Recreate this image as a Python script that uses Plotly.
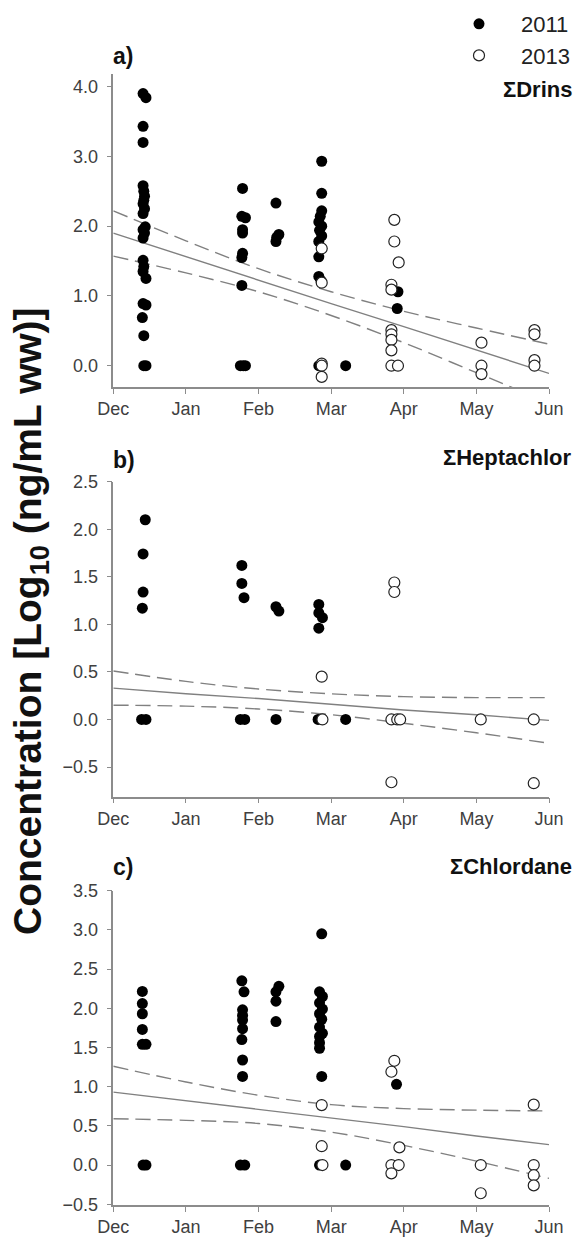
import plotly.graph_objects as go

# ---- x positions are in months after 1 Dec (Dec=0 ... Jun=6) ----
month_ticks = [0, 1, 2, 3, 4, 5, 6]
month_labels = ["Dec", "Jan", "Feb", "Mar", "Apr", "May", "Jun"]

# ---- a) sum of drins ----
drins_2011_x = [0.41, 0.45, 0.41, 0.41, 0.41, 0.42, 0.43, 0.42, 0.41, 0.43, 0.41, 0.44, 0.41,
                0.43, 0.41, 0.41, 0.42, 0.41, 0.45, 0.41, 0.45, 0.40, 0.42, 0.42, 0.45,
                1.78, 1.77, 1.82, 1.78, 1.78, 1.78, 1.77, 1.77, 1.75, 1.79, 1.82,
                2.24, 2.28, 2.25, 2.24,
                2.87, 2.87, 2.87, 2.85, 2.83, 2.87, 2.84, 2.87, 2.83, 2.87, 2.83, 2.83, 2.86, 2.83,
                3.20,
                3.92, 3.91]
drins_2011_y = [3.90, 3.84, 3.43, 3.20, 2.58, 2.50, 2.43, 2.37, 2.32, 2.25, 2.18, 1.99, 1.95,
                1.90, 1.83, 1.51, 1.42, 1.35, 1.25, 0.89, 0.87, 0.69, 0.43, 0.00, 0.00,
                2.54, 2.14, 2.12, 1.95, 1.90, 1.61, 1.55, 1.15, 0.00, 0.00, 0.00,
                2.33, 1.88, 1.84, 1.78,
                2.93, 2.47, 2.22, 2.14, 2.06, 2.00, 1.94, 1.86, 1.78, 1.68, 1.56, 1.28, 1.22, 0.00,
                0.00,
                1.06, 0.82]
drins_2013_x = [2.87, 2.87, 2.87, 2.87, 2.87,
                3.87, 3.87, 3.93, 3.83, 3.83, 3.83, 3.83, 3.83, 3.83, 3.83, 3.92,
                5.07, 5.07, 5.07,
                5.80, 5.80, 5.80, 5.80]
drins_2013_y = [1.68, 1.19, 0.03, 0.00, -0.16,
                2.09, 1.78, 1.48, 1.16, 1.09, 0.51, 0.45, 0.37, 0.22, 0.00, 0.00,
                0.33, 0.00, -0.12,
                0.51, 0.45, 0.08, 0.00]

# ---- b) sum of heptachlor ----
hepta_2011_x = [0.44, 0.41, 0.41, 0.40, 0.39, 0.45,
                1.77, 1.77, 1.80, 1.75, 1.81,
                2.24, 2.28, 2.24,
                2.83, 2.83, 2.88, 2.83, 2.82,
                3.20]
hepta_2011_y = [2.10, 1.74, 1.34, 1.17, 0.00, 0.00,
                1.62, 1.43, 1.28, 0.00, 0.00,
                1.185, 1.14, 0.00,
                1.21, 1.12, 1.07, 0.96, 0.00,
                0.00]
hepta_2013_x = [2.87, 2.88,
                3.87, 3.87, 3.83, 3.91, 3.95, 3.83,
                5.06,
                5.79, 5.79]
hepta_2013_y = [0.45, 0.00,
                1.44, 1.34, 0.00, 0.00, 0.00, -0.66,
                0.00,
                0.00, -0.67]

# ---- c) sum of chlordane ----
chlor_2011_x = [0.40, 0.40, 0.40, 0.40, 0.40, 0.45, 0.41, 0.45,
                1.77, 1.80, 1.78, 1.78, 1.78, 1.78, 1.77, 1.78, 1.78, 1.75, 1.81,
                2.28, 2.24, 2.24, 2.24,
                2.87, 2.84, 2.88, 2.84, 2.88, 2.84, 2.87, 2.84, 2.88, 2.84, 2.84, 2.84, 2.87, 2.84,
                3.20,
                3.90]
chlor_2011_y = [2.215, 2.06, 1.93, 1.73, 1.54, 1.54, 0.00, 0.00,
                2.35, 2.21, 1.98, 1.91, 1.85, 1.74, 1.60, 1.34, 1.13, 0.00, 0.00,
                2.28, 2.21, 2.09, 1.83,
                2.95, 2.21, 2.15, 2.07, 1.99, 1.93, 1.86, 1.76, 1.68, 1.64, 1.56, 1.49, 1.13, 0.00,
                0.00,
                1.03]
chlor_2013_x = [2.87, 2.87, 2.88,
                3.87, 3.83, 3.94, 3.83, 3.93, 3.83,
                5.06, 5.06,
                5.79, 5.79, 5.79, 5.79]
chlor_2013_y = [0.765, 0.24, 0.00,
                1.33, 1.19, 0.225, 0.00, 0.00, -0.106,
                0.00, -0.36,
                0.77, 0.00, -0.13, -0.26]

# ---- regression lines with 95% confidence bands ----
fit_x = [0, 1, 2, 3, 4, 5, 6]
drins_fit = [1.90, 1.56, 1.23, 0.89, 0.56, 0.22, -0.11]
drins_upper = [2.22, 1.79, 1.39, 1.06, 0.78, 0.54, 0.31]
drins_lower = [1.57, 1.33, 1.06, 0.72, 0.33, -0.10, -0.53]
hepta_fit = [0.33, 0.27, 0.22, 0.16, 0.10, 0.05, -0.01]
hepta_upper = [0.51, 0.40, 0.32, 0.27, 0.24, 0.23, 0.23]
hepta_lower = [0.15, 0.14, 0.11, 0.05, -0.04, -0.14, -0.25]
chlor_fit = [0.93, 0.82, 0.71, 0.60, 0.49, 0.37, 0.26]
chlor_upper = [1.26, 1.06, 0.89, 0.77, 0.72, 0.70, 0.69]
chlor_lower = [0.59, 0.57, 0.53, 0.42, 0.25, 0.05, -0.17]

panel_letters = ["a)", "b)", "c)"]
panel_names = ["ΣDrins", "ΣHeptachlor", "ΣChlordane"]
y_ranges = [[-0.305, 4.18], [-0.81, 2.5], [-0.51, 3.5]]
y_ticks = [[0.0, 1.0, 2.0, 3.0, 4.0],
           [-0.5, 0.0, 0.5, 1.0, 1.5, 2.0, 2.5],
           [-0.5, 0.0, 0.5, 1.0, 1.5, 2.0, 2.5, 3.0, 3.5]]

# ---- page geometry (pixels) ----
W, H = 579, 1237
FONT = "Liberation Sans, Arial, sans-serif"
AXIS_GREY = "#8c8c8c"
LINE_GREY = "#808080"
plot_left, plot_right = 113.3, 549.0
panel_px = [(74.0, 387.0), (481.7, 796.5), (890.7, 1205.0)]   # (top, bottom)
letter_px = [56, 460, 867]
name_px = [89, 458, 866]


def py(px):
    return 1 - px / H


def px_x(px):
    return px / W


panels = [
    (drins_2011_x, drins_2011_y, drins_2013_x, drins_2013_y, drins_fit, drins_upper, drins_lower),
    (hepta_2011_x, hepta_2011_y, hepta_2013_x, hepta_2013_y, hepta_fit, hepta_upper, hepta_lower),
    (chlor_2011_x, chlor_2011_y, chlor_2013_x, chlor_2013_y, chlor_fit, chlor_upper, chlor_lower),
]

# en-spaces widen the gap between legend symbol and label
GAP = "\u2002\u2002"

fig = go.Figure()
for i, (x11, y11, x13, y13, fit, up, lo) in enumerate(panels):
    xa = "x" if i == 0 else f"x{i + 1}"
    ya = "y" if i == 0 else f"y{i + 1}"
    for band in (up, lo):
        fig.add_trace(go.Scatter(x=fit_x, y=band, mode="lines", xaxis=xa, yaxis=ya,
                                 line=dict(color=LINE_GREY, width=1.4, dash="15px,7px", shape="spline"),
                                 showlegend=False, hoverinfo="skip"))
    fig.add_trace(go.Scatter(x=fit_x, y=fit, mode="lines", xaxis=xa, yaxis=ya,
                             line=dict(color=LINE_GREY, width=1.4),
                             showlegend=False, hoverinfo="skip"))
    fig.add_trace(go.Scatter(x=x11, y=y11, mode="markers", xaxis=xa, yaxis=ya, name=GAP + "2011",
                             marker=dict(symbol="circle", size=11, color="#000000",
                                         line=dict(color="#000000", width=0)),
                             showlegend=(i == 0), cliponaxis=False))
    fig.add_trace(go.Scatter(x=x13, y=y13, mode="markers", xaxis=xa, yaxis=ya, name=GAP + "2013",
                             marker=dict(symbol="circle", size=11, color="#ffffff",
                                         line=dict(color="#222222", width=1.2)),
                             showlegend=(i == 0), cliponaxis=False))

layout = dict(
    width=W, height=H,
    margin=dict(l=0, r=0, t=0, b=0),
    paper_bgcolor="white", plot_bgcolor="white",
    font=dict(family=FONT, color="#404040", size=18),
    legend=dict(x=px_x(575), xanchor="right", y=py(3), yanchor="top",
                font=dict(family=FONT, size=22, color="#222222"),
                bgcolor="rgba(0,0,0,0)", tracegroupgap=0),
    annotations=[],
)
for i in range(3):
    sfx = "" if i == 0 else str(i + 1)
    top, bot = panel_px[i]
    layout["xaxis" + sfx] = dict(
        domain=[px_x(plot_left), px_x(plot_right)], anchor="y" + sfx,
        range=[0, 6], tickvals=month_ticks, ticktext=month_labels,
        showline=True, linecolor=AXIS_GREY, linewidth=1.5,
        ticks="outside", ticklen=5, tickwidth=1.2, tickcolor=AXIS_GREY,
        showgrid=False, zeroline=False, automargin=False,
        tickfont=dict(size=18, color="#404040"), ticklabelstandoff=0,
    )
    layout["yaxis" + sfx] = dict(
        domain=[py(bot), py(top)], anchor="x" + sfx,
        range=y_ranges[i], tickvals=y_ticks[i], tickformat=".1f",
        showline=True, linecolor=AXIS_GREY, linewidth=1.5,
        ticks="outside", ticklen=5, tickwidth=1.2, tickcolor=AXIS_GREY,
        showgrid=False, zeroline=False, automargin=False,
        tickfont=dict(size=18, color="#404040"), ticklabelstandoff=5,
    )
    layout["annotations"].append(dict(
        text=f"<b>{panel_letters[i]}</b>", xref="paper", yref="paper",
        x=px_x(plot_left - 2), y=py(letter_px[i]), xanchor="left", yanchor="middle",
        showarrow=False, font=dict(family=FONT, size=23, color="#111111")))
    layout["annotations"].append(dict(
        text=f"<b>{panel_names[i]}</b>", xref="paper", yref="paper",
        x=px_x(574), y=py(name_px[i]), xanchor="right", yanchor="middle",
        showarrow=False, font=dict(family=FONT, size=22, color="#111111")))

layout["annotations"].append(dict(
    text="<b>Concentration [Log<sub>10</sub> (ng/mL ww)]</b>", xref="paper", yref="paper",
    x=px_x(31), y=py(621), xanchor="center", yanchor="middle", textangle=-90,
    showarrow=False, font=dict(family=FONT, size=39, color="#111111")))

fig.update_layout(**layout)
fig.write_html("out.html")
